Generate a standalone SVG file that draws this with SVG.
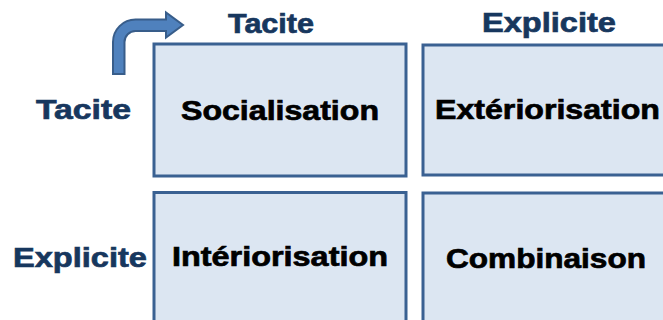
<svg xmlns="http://www.w3.org/2000/svg" width="663" height="320" viewBox="0 0 663 320">
<style>
.box{fill:#dce6f2;stroke:#3a6192;stroke-width:3}
.t{font-family:"Liberation Sans",Arial,sans-serif;font-weight:bold;font-size:27.5px;fill:#000;stroke:#000;stroke-width:0.7}
.lbl{font-family:"Liberation Sans",Arial,sans-serif;font-weight:bold;font-size:28px;fill:#17375e;stroke:#17375e;stroke-width:0.7}
.arrow{fill:#4f81bd;stroke:#385d8a;stroke-width:2;stroke-linejoin:miter}
</style>
<rect width="663" height="320" fill="#fff"/>
<g id="connectors">
<path class="arrow" d="M113,74 L113,42 A22.5,22.5 0 0 1 135.5,19.5 L166,19.5 L166,12.5 L183,25 L166,37.5 L166,31 L135.5,31 A11,11 0 0 0 124.5,42 L124.5,74 Z"/>
</g>
<g id="label-top-tacite"><text class="lbl" x="228" y="33" textLength="86" lengthAdjust="spacingAndGlyphs">Tacite</text></g>
<g id="label-top-explicite"><text class="lbl" x="482" y="32" textLength="134" lengthAdjust="spacingAndGlyphs">Explicite</text></g>
<g id="label-left-tacite"><text class="lbl" x="36" y="119" textLength="95" lengthAdjust="spacingAndGlyphs">Tacite</text></g>
<g id="label-left-explicite"><text class="lbl" x="13" y="267" textLength="134" lengthAdjust="spacingAndGlyphs">Explicite</text></g>
<g id="socialisation">
<rect class="box" x="154" y="44" width="252" height="132"/>
<text class="t" x="181" y="120" textLength="198" lengthAdjust="spacingAndGlyphs">Socialisation</text>
</g>
<g id="exteriorisation">
<rect class="box" x="423" y="45" width="246" height="130"/>
<text class="t" x="435" y="119" textLength="225" lengthAdjust="spacingAndGlyphs">Extériorisation</text>
</g>
<g id="interiorisation">
<rect class="box" x="154" y="192.5" width="252" height="140"/>
<text class="t" x="172" y="266" textLength="216" lengthAdjust="spacingAndGlyphs">Intériorisation</text>
</g>
<g id="combinaison">
<rect class="box" x="423" y="193" width="246" height="140"/>
<text class="t" x="446" y="268" textLength="200" lengthAdjust="spacingAndGlyphs">Combinaison</text>
</g>
</svg>
